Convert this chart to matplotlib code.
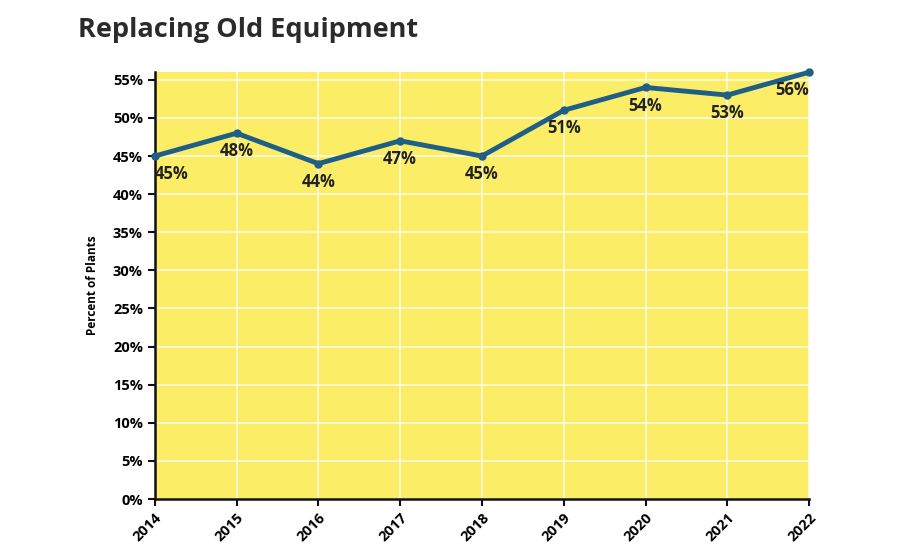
import matplotlib.pyplot as plt
from matplotlib.ticker import FuncFormatter

years = [2014, 2015, 2016, 2017, 2018, 2019, 2020, 2021, 2022]
percent = [45, 48, 44, 47, 45, 51, 54, 53, 56]
labels = [f"{v}%" for v in percent]

plt.rcParams['font.family'] = ['Open Sans', 'DejaVu Sans']

fig = plt.figure(figsize=(9, 5.5), dpi=100)
ax = fig.add_axes([0.172, 0.0927, 0.727, 0.776])
ax.set_facecolor('#fbed66')

ax.plot(years, percent, color='#1d5f86', linewidth=3.5, marker='o',
        markersize=5, solid_joinstyle='round', clip_on=False, zorder=3)

for i, (x, y, t) in enumerate(zip(years, percent, labels)):
    ha = 'center'
    if i == 0:
        ha = 'left'
    elif i == len(years) - 1:
        ha = 'right'
    ax.annotate(t, (x, y), xytext=(0, -13), textcoords='offset points',
                ha=ha, va='center', fontsize=12, fontweight='bold',
                color='#222222')

ax.set_xlim(2014, 2022)
ax.set_ylim(0, 56)
ax.set_xticks(years)
ax.set_yticks(range(0, 56, 5))
ax.yaxis.set_major_formatter(FuncFormatter(lambda v, p: f"{int(v)}%"))
ax.tick_params(axis='both', labelsize=10.5, width=1.5, length=5, color='#111111')
for lab in ax.get_xticklabels():
    lab.set_rotation(45)
    lab.set_ha('right')
    lab.set_rotation_mode('anchor')
    lab.set_fontweight('bold')
for lab in ax.get_yticklabels():
    lab.set_fontweight('bold')

ax.grid(True, color='white', linewidth=1.2, alpha=0.8)
ax.set_axisbelow(True)
for s in ['top', 'right']:
    ax.spines[s].set_visible(False)
for s in ['left', 'bottom']:
    ax.spines[s].set_linewidth(1.8)
    ax.spines[s].set_color('#111111')

ax.set_ylabel('Percent of Plants', fontsize=8.5, fontweight='bold', labelpad=10)

fig.text(0.087, 0.945, 'Replacing Old Equipment', fontsize=19.5, fontweight='bold',
         color='#2b2b2b', va='center', ha='left')

fig.savefig('out.png', dpi=100, facecolor='white')
